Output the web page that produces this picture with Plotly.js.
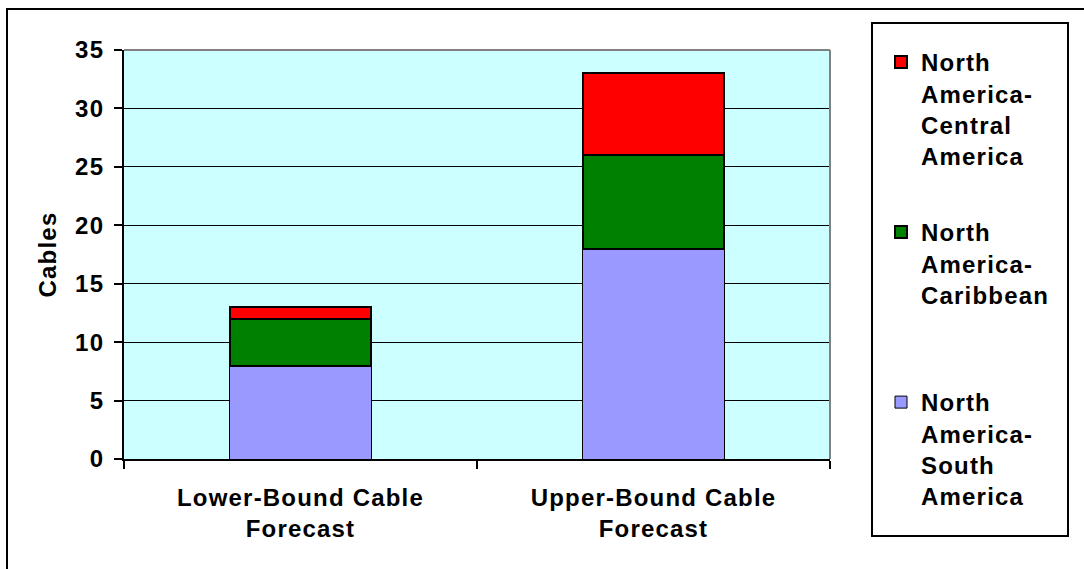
<!DOCTYPE html>
<html>
<head>
<meta charset="utf-8">
<script src="https://cdn.plot.ly/plotly-3.0.1.min.js"></script>
<style>html,body{margin:0;padding:0;background:#fff;}#chart{width:1084px;height:569px;}text{letter-spacing:1.2px;}</style>
</head>
<body>
<div id="chart"></div>
<script>
var categories = ["Lower-Bound Cable<br>Forecast", "Upper-Bound Cable<br>Forecast"];
var seriesNames = ["North<br>America-<br>South<br>America", "North<br>America-<br>Caribbean", "North<br>America-<br>Central<br>America"];
var southAmerica = [8, 18];
var caribbean = [4, 8];
var centralAmerica = [1, 7];
var seriesColors = ["#9999FF", "#008000", "#FF0000"];
var yTicks = [0, 5, 10, 15, 20, 25, 30, 35];

var FONT = "Liberation Sans, Arial, sans-serif";
var FS = 24;
var seriesValues = [southAmerica, caribbean, centralAmerica];
var lineWidths = [1, 2, 2];
var legendIds = ["legend3", "legend2", "legend"];
var traces = seriesValues.map(function (vals, i) {
  return {
    type: "bar",
    name: seriesNames[i],
    x: categories,
    y: vals,
    legend: legendIds[i],
    marker: { color: seriesColors[i], line: { color: "#000", width: lineWidths[i] } },
    hoverinfo: "y+name"
  };
});

function px(xp) { return (xp - 124) / 706; }
function py(yp) { return (459 - yp) / 409; }
var boldFont = { family: FONT, size: FS, color: "#000", weight: "bold" };
function legendAt(topPx) {
  return {
    x: px(881), xanchor: "left",
    y: py(topPx), yanchor: "top",
    bgcolor: "rgba(0,0,0,0)",
    borderwidth: 0,
    font: boldFont,
    valign: "top"
  };
}

var layout = {
  width: 1084, height: 569,
  margin: { l: 124, r: 254, t: 50, b: 110 },
  paper_bgcolor: "#FFFFFF",
  plot_bgcolor: "#CCFFFF",
  barmode: "stack",
  bargap: 0.6,
  showlegend: true,
  font: { family: FONT, color: "#000", size: FS },
  xaxis: {
    type: "category",
    showline: true, linecolor: "#000", linewidth: 2,
    ticks: "outside", tickson: "boundaries", ticklen: 8, tickwidth: 2, tickcolor: "#000",
    ticklabelstandoff: 16,
    tickfont: boldFont,
    showgrid: false, zeroline: false
  },
  yaxis: {
    range: [0, 35],
    tickvals: yTicks,
    ticktext: yTicks.map(String),
    showline: true, linecolor: "#000", linewidth: 2,
    ticks: "outside", ticklen: 8, tickwidth: 2, tickcolor: "#000",
    ticklabelstandoff: 5,
    tickfont: boldFont,
    showgrid: true, gridcolor: "#000", gridwidth: 1,
    zeroline: false,
    title: { text: "Cables", font: boldFont, standoff: 12 }
  },
  legend: legendAt(40),
  legend2: legendAt(210),
  legend3: legendAt(380),
  shapes: [
    { type: "rect", xref: "paper", yref: "paper", x0: px(7), x1: px(1095), y0: py(580), y1: py(9),
      line: { color: "#000", width: 2 }, fillcolor: "rgba(0,0,0,0)", layer: "above" },
    { type: "rect", xref: "paper", yref: "paper", x0: px(872), x1: px(1068), y0: py(536), y1: py(23),
      line: { color: "#000", width: 2 }, fillcolor: "rgba(0,0,0,0)", layer: "above" },
    { type: "line", xref: "paper", yref: "paper", x0: 0, x1: 1, y0: 1, y1: 1,
      line: { color: "#808080", width: 2 }, layer: "above" },
    { type: "line", xref: "paper", yref: "paper", x0: 1, x1: 1, y0: 0, y1: 1,
      line: { color: "#808080", width: 2 }, layer: "above" }
  ]
};

Plotly.newPlot("chart", traces, layout, { displayModeBar: false, staticPlot: true });
</script>
</body>
</html>
